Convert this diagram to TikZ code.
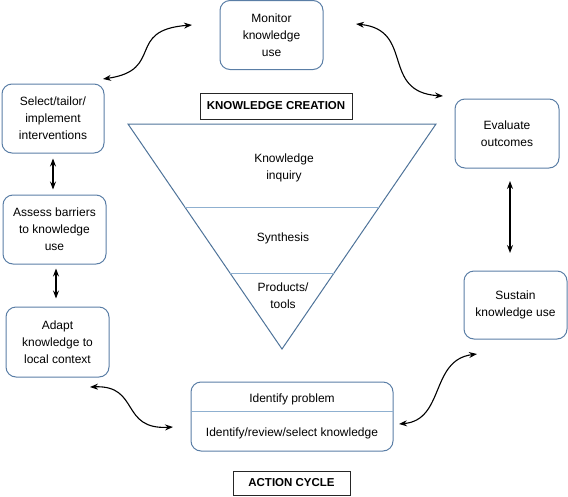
\documentclass[tikz,border=0pt]{standalone}
\usepackage{fontspec}
\setmainfont{Liberation Sans}
\usetikzlibrary{arrows.meta,calc}
\definecolor{boxblue}{HTML}{5A7EA6}
\definecolor{triblue}{HTML}{4E7399}
\definecolor{lineblue}{HTML}{8FB0D0}
\begin{document}
\begin{tikzpicture}[x=1pt,y=-1pt,
  stage/.style={draw=boxblue, line width=1pt, rounded corners=10pt, align=center,
    font=\fontsize{12}{17}\selectfont, inner sep=0pt, minimum width=103pt, minimum height=69pt},
  tag/.style={draw=black!85, line width=0.9pt, font=\bfseries\fontsize{11.5}{14}\selectfont, inner sep=0pt},
  plain/.style={align=center, font=\fontsize{12}{17}\selectfont, inner sep=0pt},
  link/.style={{Stealth[length=8pt,width=6pt]}-{Stealth[length=8pt,width=6pt]}, line width=1.1pt}]
\useasboundingbox (0,0) rectangle (568,496);

% boxes
\node[stage] (monitor) at (271.5,35) {Monitor\\knowledge\\use};
\node[stage, minimum width=102pt] (select) at (53,118.5) {Select/tailor/\\implement\\interventions};
\node[stage] (assess) at (54.5,229.5) {Assess barriers\\to knowledge\\use};
\node[stage, minimum height=70pt] (adapt) at (57.5,342) {Adapt\\knowledge to\\local context};
\node[stage, minimum width=104pt] (evaluate) at (507,133.5) {Evaluate\\outcomes};
\node[stage, minimum height=68pt] (sustain) at (515.5,305) {Sustain\\knowledge use};
\node[stage, minimum width=202pt] (identify) at (292,416.5) {};
\draw[lineblue, line width=0.9pt] (identify.west |- 0,411) coordinate (dl) -- (identify.east |- 0,411) coordinate (dr);
\node[plain] (idprob) at (292,399) {Identify problem};
\node[plain] (idsel) at (292,433) {Identify/review/select knowledge};

% tags
\node[tag, minimum width=152pt, minimum height=26pt] (kc) at (276,106) {KNOWLEDGE CREATION};
\node[tag, minimum width=117pt, minimum height=24pt] (ac) at (291.5,483) {ACTION CYCLE};

% funnel
\coordinate (tl) at (128,124);
\coordinate (tr) at (436,124);
\coordinate (tb) at (282,349);
\draw[triblue, line width=1pt, line join=miter] (tl) -- (tr) -- (tb) -- cycle;
\draw[lineblue, line width=0.9pt] ($(tl)!0.373!(tb)$) -- ($(tr)!0.373!(tb)$);
\draw[lineblue, line width=0.9pt] ($(tl)!0.662!(tb)$) -- ($(tr)!0.662!(tb)$);
\node[plain] (inquiry) at (284,168) {Knowledge\\inquiry};
\node[plain] (synth) at (283,238) {Synthesis};
\node[plain] (products) at (283,296) {Products/\\tools};

% connector ends
\coordinate (s1) at (103,79);
\coordinate (m1) at (192,25);
\coordinate (m2) at (356,24);
\coordinate (e1) at (443,96);
\coordinate (e2) at (510,181);
\coordinate (u1) at (510,253);
\coordinate (u2) at (477,354);
\coordinate (i1) at (399,424);
\coordinate (i2) at (173,427);
\coordinate (a1) at (90,387);

\draw[link] (s1) .. controls (165,70) and (125,30) .. (m1);
\draw[link] (m2) .. controls (415,30) and (380,92) .. (e1);
\draw[link] (e2) -- (u1);
\draw[link] (u2) .. controls (430,360) and (445,420) .. (i1);
\draw[link] (i2) .. controls (120,430) and (140,385) .. (a1);
\draw[link] ($(select.south)+(0,5)$) -- ($(select.south |- assess.north)+(0,-5)$);
\draw[link] ($(assess.south)+(1.5,4)$) -- ($(assess.south |- adapt.north)+(1.5,-8)$);
\end{tikzpicture}
\end{document}
